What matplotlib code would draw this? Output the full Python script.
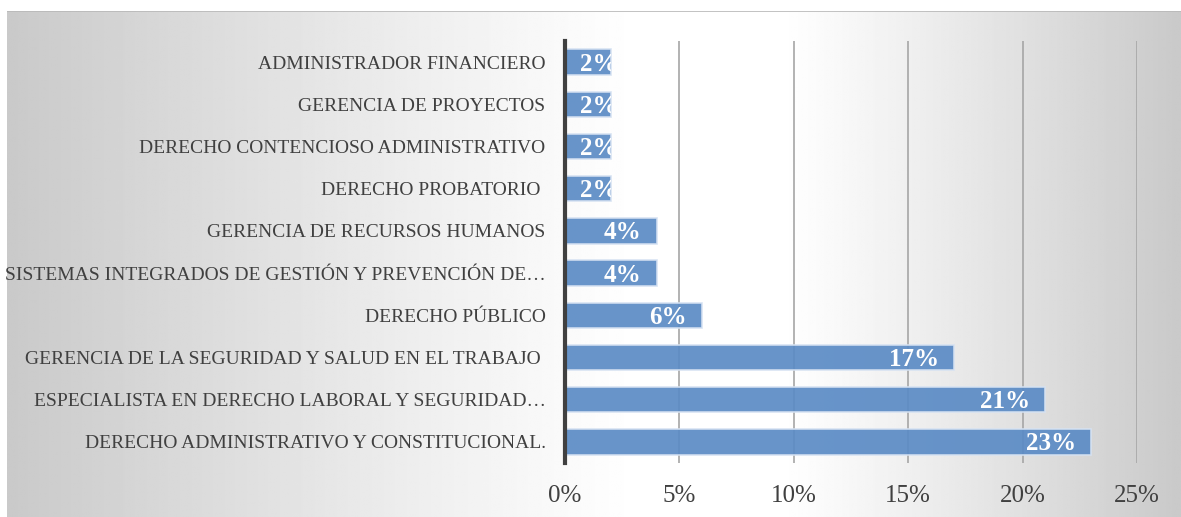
import matplotlib.pyplot as plt
import numpy as np

categorias = [
    "DERECHO ADMINISTRATIVO Y CONSTITUCIONAL.",
    "ESPECIALISTA EN DERECHO LABORAL Y SEGURIDAD…",
    "GERENCIA DE LA SEGURIDAD Y SALUD EN EL TRABAJO ",
    "DERECHO PÚBLICO",
    "SISTEMAS INTEGRADOS DE GESTIÓN Y PREVENCIÓN DE…",
    "GERENCIA DE RECURSOS HUMANOS",
    "DERECHO PROBATORIO ",
    "DERECHO CONTENCIOSO ADMINISTRATIVO",
    "GERENCIA DE PROYECTOS",
    "ADMINISTRADOR FINANCIERO",
]
valores = [23, 21, 17, 6, 4, 4, 2, 2, 2, 2]
ticks = [0, 5, 10, 15, 20, 25]

W, H = 1181, 517
fig = plt.figure(figsize=(W / 100, H / 100), dpi=100)
fig.patch.set_facecolor("white")

# fondo degradado (gris a los lados, blanco al centro)
bg = fig.add_axes([7 / W, 0, 1 - 7 / W, 1 - 11 / H], zorder=0)
xs = np.linspace(7, W, 600)
d = np.where(xs < 640, (640 - xs) / 633, np.where(xs > 780, (xs - 780) / 400, 0))
v = 1 - 0.21 * np.clip(d, 0, 1) ** 1.1
img = np.tile(v, (50, 1))
bg.imshow(img, cmap="gray", vmin=0, vmax=1, aspect="auto", extent=[0, 1, 0, 1])
bg.axhline(1, color="#b8b8b8", lw=1.2)
bg.set_axis_off()

ax = fig.add_axes([565 / W, 1 - 463 / H, (1137 - 565) / W, 422 / H], zorder=1)
ax.patch.set_alpha(0)

y = np.arange(len(categorias))
bars = ax.barh(y, valores, height=0.6, color="#5b8bc5", alpha=0.92,
               edgecolor="#d6e2f2", linewidth=1.2, zorder=2)

ax.set_xlim(0, 25)
ax.set_ylim(-0.5, len(categorias) - 0.5)
ax.set_xticks(ticks)
ax.set_xticklabels([f"{t}%" for t in ticks])
ax.set_yticks(y)
ax.set_yticklabels(categorias)

serif = "Liberation Serif"
for lab in ax.get_yticklabels():
    lab.set_fontfamily(serif)
    lab.set_fontsize(14)
    lab.set_color("#404040")
for lab in ax.get_xticklabels():
    lab.set_fontfamily(serif)
    lab.set_fontsize(18)
    lab.set_color("#404040")

ax.tick_params(axis="both", length=0)
ax.tick_params(axis="y", pad=14)
ax.tick_params(axis="x", pad=16)

ax.grid(axis="x", color="#a6a6a6", lw=1.2, zorder=1)
for s in ["top", "right", "bottom"]:
    ax.spines[s].set_visible(False)
ax.spines["left"].set_color("#404040")
ax.spines["left"].set_linewidth(3)
ax.spines["left"].set_zorder(3)

for b, val in zip(bars, valores):
    cy = b.get_y() + b.get_height() / 2
    if val >= 3:
        t = ax.annotate(f"{val}%", (val, cy), xytext=(-11, -1.5), textcoords="offset points",
                        ha="right", va="center", color="white", fontsize=18,
                        fontweight="bold", fontfamily=serif, zorder=4)
    else:
        t = ax.annotate(f"{val}%", (0, cy), xytext=(11, -1.5), textcoords="offset points",
                        ha="left", va="center", color="white", fontsize=18,
                        fontweight="bold", fontfamily=serif, zorder=4)
        t.set_clip_path(b)

fig.savefig("out.png", dpi=100)
